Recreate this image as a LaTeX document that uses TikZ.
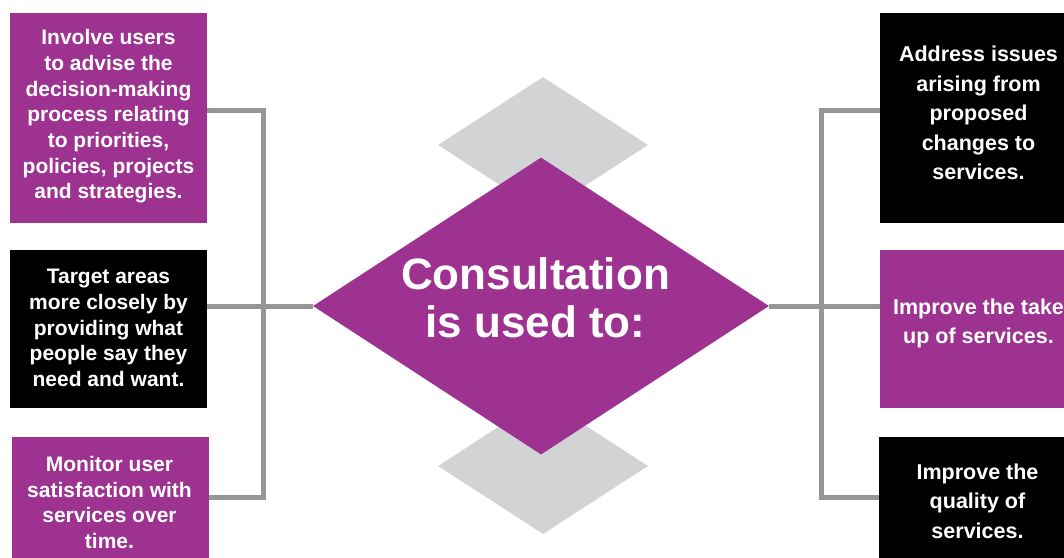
\documentclass[tikz,border=0pt]{standalone}
\usepackage{fontspec}
\setmainfont{Liberation Sans}
\usetikzlibrary{shapes.geometric}
\definecolor{cpurple}{RGB}{157,50,145}
\definecolor{cgreyd}{RGB}{209,211,212}
\definecolor{cline}{RGB}{150,150,153}
\begin{document}
\begin{tikzpicture}[x=1pt,y=-1pt,
  box/.style={rectangle, draw=none, inner sep=0pt, minimum width=197pt, minimum height=#1, anchor=north west},
  pbox/.style={box=#1, fill=cpurple},
  kbox/.style={box=#1, fill=black},
  lbl/.style={text=white, align=center, inner sep=0pt, font=\bfseries\fontsize{21}{25.7}\selectfont},
  rlbl/.style={text=white, align=center, inner sep=0pt, font=\bfseries\fontsize{21.5}{29.5}\selectfont},
  gdia/.style={diamond, fill=cgreyd, draw=none, inner sep=0pt, minimum width=210pt, minimum height=136pt, aspect=1.544},
  conn/.style={draw=cline, line width=5pt, line join=miter},
]
\useasboundingbox (0,0) rectangle (1064,557);

% background diamonds
\node[gdia] (gtop) at (543,145) {};
\node[gdia] (gbot) at (543,466) {};
% main diamond
\node[diamond, fill=cpurple, draw=none, inner sep=0pt, minimum width=456pt, minimum height=297pt, aspect=1.535] (main) at (541,306) {};
\node[text=white, align=center, inner sep=0pt, font=\bfseries\fontsize{44}{48}\selectfont] (maintxt) at (535.5,298) {Consultation\\is used to:};

% left boxes
\node[pbox=210pt] (l1) at (10,13) {};
\node[kbox=158pt] (l2) at (10,250) {};
\node[pbox=130pt] (l3) at (12,437) {};
\node[lbl] (l1t) at (108.5,116.5) {Involve users\\to advise the\\decision-making\\process relating\\to priorities,\\policies, projects\\and strategies.};
\node[lbl] (l2t) at (108.5,328) {Target areas\\more closely by\\providing what\\people say they\\need and want.};
\node[lbl] (l3t) at (109.5,502.5) {Monitor user\\satisfaction with\\services over\\time.};

% right boxes
\node[kbox=210pt] (r1) at (880,13) {};
\node[pbox=158pt] (r2) at (880,250) {};
\node[kbox=130pt] (r3) at (879,437) {};
\node[rlbl] (r1t) at (978.5,113) {Address issues\\arising from\\proposed\\changes to\\services.};
\node[rlbl] (r2t) at (978.5,323.5) {Improve the take\\up of services.};
\node[rlbl] (r3t) at (977.5,501) {Improve the\\quality of\\services.};

% connector helpers
\coordinate (yt) at (0,110.5);
\coordinate (yb) at (0,497);
\coordinate (jl) at (263,306.5);
\coordinate (jr) at (821,306.5);

% left connectors
\draw[conn] (l1.east |- yt) -| (jl);
\draw[conn] (l3.east |- yb) -| (jl);
\draw[conn] (l2.east |- main.west) -- (main.west);
% right connectors
\draw[conn] (r1.west |- yt) -| (jr);
\draw[conn] (r3.west |- yb) -| (jr);
\draw[conn] (main.east) -- (r2.west |- main.east);
\end{tikzpicture}
\end{document}
